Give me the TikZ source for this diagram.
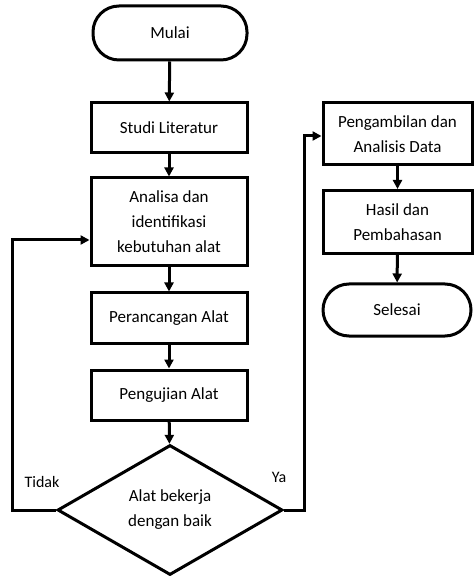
\documentclass[tikz,border=0pt]{standalone}
\usepackage{fontspec}
\setmainfont{Carlito}
\usetikzlibrary{shapes.geometric,arrows.meta}
\begin{document}
\begin{tikzpicture}[x=0.5pt, y=-0.5pt, >={Triangle[length=4.5pt,width=4.5pt]}, line width=1.5pt,
    font=\fontsize{8.5}{12.5}\selectfont]
    % Styles
    \tikzstyle{terminal} = [draw, rectangle, rounded corners=13pt, minimum width=77pt, minimum height=27pt, align=center]
    \tikzstyle{block} = [draw, rectangle, minimum width=78pt, minimum height=25pt, align=center, inner sep=2pt]
    \tikzstyle{decision} = [draw, diamond, minimum width=112.5pt, minimum height=65pt, inner sep=0pt, align=center]
    \tikzstyle{label} = [inner sep=0pt, font=\fontsize{8}{10}\selectfont]

    \useasboundingbox (0,0) rectangle (473,576);

    % Nodes
    \node [terminal] (mulai) at (170,33) {Mulai};
    \node [block] (studi) at (169,128) {Studi Literatur};
    \node [block, minimum height=44pt] (analisa) at (169,222) {Analisa dan\\identifikasi\\kebutuhan alat};
    \node [block] (rancang) at (169,318) {Perancangan Alat};
    \node [block] (uji) at (169,395) {Pengujian Alat};
    \node [decision] (cek) at (170,510) {Alat bekerja\\dengan baik};
    \node [block, minimum width=74.5pt, minimum height=31pt] (ambil) at (397.5,134) {Pengambilan dan\\Analisis Data};
    \node [block, minimum width=74.5pt, minimum height=31.5pt] (hasil) at (397.5,222) {Hasil dan\\Pembahasan};
    \node [terminal, minimum width=74pt, minimum height=26pt] (selesai) at (397,310) {Selesai};

    % Labels
    \node [label] (tidak) at (42,482) {Tidak};
    \node [label] (ya) at (279,477) {Ya};

    % Connections
    \draw [->] (mulai) -- (studi);
    \draw [->] (studi) -- (analisa);
    \draw [->] (analisa) -- (rancang);
    \draw [->] (rancang) -- (uji);
    \draw [->] (uji) -- (cek);
    \draw [->] (cek.west) -- ++(-22pt,0) |- ([yshift=-9pt]analisa.west);
    \draw [->] (cek.east) -- ++(10pt,0) |- ([yshift=-1pt]ambil.west);
    \draw [->] (ambil) -- (hasil);
    \draw [->] (hasil) -- (selesai);
\end{tikzpicture}
\end{document}
